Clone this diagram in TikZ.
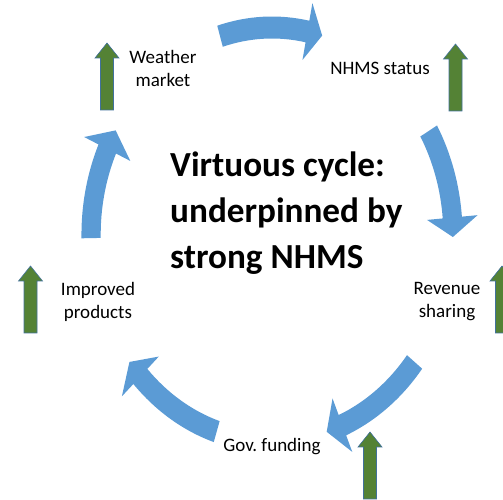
\documentclass[tikz,border=0pt]{standalone}
\usepackage{fontspec}
\setmainfont{Carlito}
\usepackage{tikz}

\definecolor{cycleblue}{HTML}{5B9BD5}
\definecolor{growgreen}{HTML}{548235}
\definecolor{growedge}{HTML}{41719C}

% curved arrow on the cycle: #1 tail angle, #2 head angle, #3 tip angle
\newcommand{\cyclearrow}[3]{%
  \fill[cycle arrow] (#1:218) arc[start angle=#1, end angle=#2, radius=218]
    -- (#2:236) -- (#3:207) -- (#2:178) -- (#2:196)
    arc[start angle=#2, end angle=#1, radius=196] -- cycle;}

\begin{document}
\begin{tikzpicture}[x=1pt, y=1pt,
  cycle arrow/.style={fill=cycleblue},
  grow arrow/.style={fill=growgreen, draw=growedge, line width=0.6pt},
  itemtext/.style={align=center, inner sep=0pt, font=\fontsize{19}{23}\selectfont},
  uparrow/.pic={\filldraw[grow arrow] (-6.5,0) -- (-6.5,52) -- (-12,52) -- (0,67) -- (12,52) -- (6.5,52) -- (6.5,0) -- cycle;}]
  \clip (0,0) rectangle (503,500);
  %\draw [lightgray] (0,0) rectangle (503,500);
  \begin{scope}[shift={(272,265.5)}, xscale=0.874]
    \cyclearrow{106.7}{78.7}{73.9}
    \cyclearrow{30}{4.7}{-0.7}
    \cyclearrow{-38}{-67.1}{-72.4}
    \cyclearrow{252.2}{223.3}{218}
    \cyclearrow{181}{155.6}{149.8}
  \end{scope}
  \pic at (107,390) {uparrow};
  \pic at (455.5,389) {uparrow};
  \pic at (30.5,167) {uparrow};
  \pic at (502,167) {uparrow};
  \pic at (370,1) {uparrow};
  \node [itemtext] (weather) at (163,432) {Weather\\market};
  \node [itemtext, anchor=base] (status) at (380,425) {NHMS status};
  \node [itemtext] (products) at (98,198) {Improved\\products};
  \node [itemtext] (sharing) at (447,198) {Revenue\\sharing};
  \node [itemtext, anchor=base] (funding) at (272,48) {Gov.\ funding};
  \node [anchor=west, align=left, inner sep=0pt, font=\bfseries\fontsize{35.2}{46}\selectfont] (title) at (170,287) {Virtuous cycle:\\underpinned by\\strong NHMS};
\end{tikzpicture}
\end{document}
